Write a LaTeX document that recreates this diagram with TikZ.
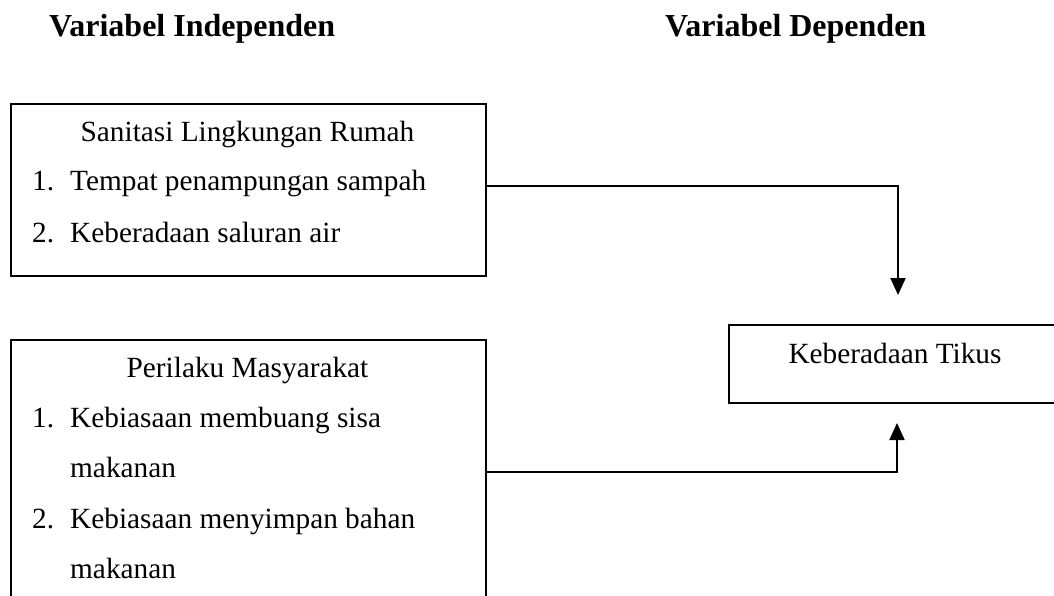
\documentclass[tikz,border=0pt]{standalone}
\usepackage{fontspec}
\setmainfont{Liberation Serif}
\usetikzlibrary{arrows.meta}
\tikzset{
  frame/.style={draw, line width=2pt, inner sep=0pt, anchor=north west},
  body/.style={font=\fontsize{29.3}{34}\selectfont, inner sep=0pt, anchor=base west},
  head/.style={font=\fontsize{32}{36}\selectfont\bfseries, inner sep=0pt, anchor=base west},
  link/.style={line width=2pt, -{Triangle[width=15pt,length=17pt]}}
}
\begin{document}
\begin{tikzpicture}[x=1pt, y=-1pt]
\useasboundingbox (0,0) rectangle (1054,596);
\clip (0,0) rectangle (1054,596);

% column headings
\node[head] (hind) at (49,37) {Variabel Independen};
\node[head] (hdep) at (665,37) {Variabel Dependen};

% boxes
\node[frame, minimum width=475pt, minimum height=172pt] (san) at (10,103) {};
\node[frame, minimum width=475pt, minimum height=290pt] (per) at (10,339) {};
\node[frame, minimum width=334pt, minimum height=78pt] (tikus) at (728,324) {};

% sanitation box text
\node[body, anchor=base] (santitle) at (247.5,142) {Sanitasi Lingkungan Rumah};
\node[body] (sn1) at (32,191) {1.};
\node[body] (st1) at (70,191) {Tempat penampungan sampah};
\node[body] (sn2) at (32,242) {2.};
\node[body] (st2) at (70,242) {Keberadaan saluran air};

% behaviour box text
\node[body, anchor=base] (pertitle) at (247.5,377) {Perilaku Masyarakat};
\node[body] (pn1) at (32,427) {1.};
\node[body] (pt1) at (70,427) {Kebiasaan membuang sisa};
\node[body] (pt1b) at (70,477) {makanan};
\node[body] (pn2) at (32,528) {2.};
\node[body] (pt2) at (70,528) {Kebiasaan menyimpan bahan};
\node[body] (pt2b) at (70,578) {makanan};

% dependent box text
\node[body, anchor=base] (tikustext) at (895,363) {Keberadaan Tikus};

% connectors
\coordinate (topend) at (898,295);
\coordinate (botend) at (897,423);
\coordinate (toprow) at (0,186);
\coordinate (botrow) at (0,472);
\draw[link] (san.east |- toprow) -| (topend);
\draw[link] (per.east |- botrow) -| (botend);
\end{tikzpicture}
\end{document}
